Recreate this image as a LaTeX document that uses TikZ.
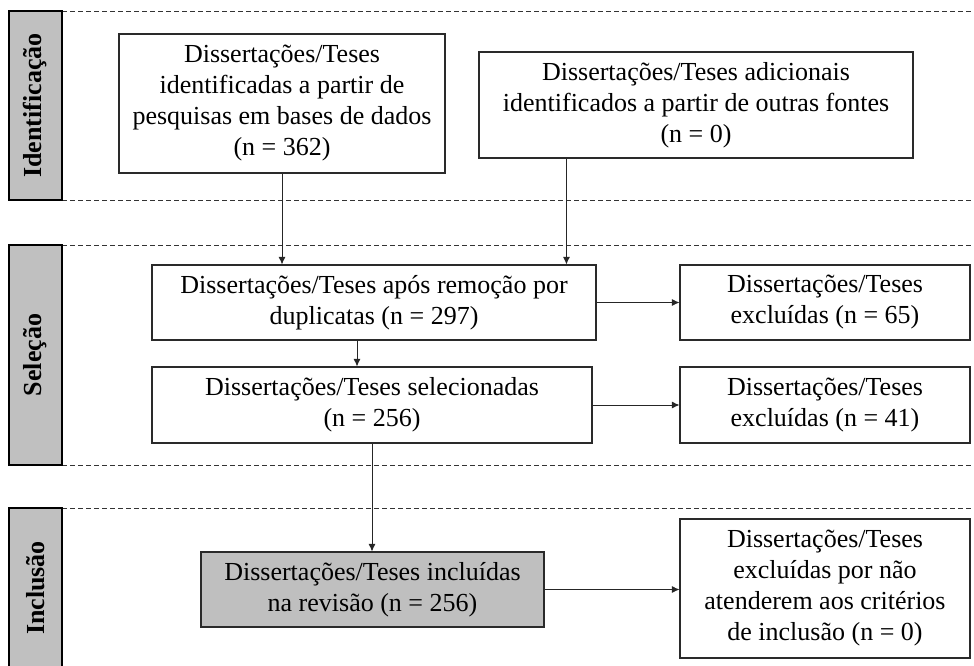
\documentclass[tikz,border=0pt]{standalone}
\usepackage{fontspec}
\setmainfont{Liberation Serif}
\usetikzlibrary{arrows.meta}
\definecolor{bandgray}{HTML}{C0C0C0}
\definecolor{boxgray}{HTML}{BFBFBF}
\definecolor{edge}{HTML}{2A2A2A}
\tikzset{
  flowbox/.style={draw=edge, line width=1.1pt, fill=white, inner sep=0pt, align=center,
     font=\fontsize{26}{31}\selectfont},
  arr/.style={draw=black!85, line width=0.9pt, -{Latex[length=7.5pt,width=7pt]}},
  sep/.style={draw=black!80, line width=0.9pt, dash pattern=on 5pt off 3pt},
  band/.style={draw=black, line width=1.3pt, fill=bandgray},
  bandlabel/.style={rotate=90, font=\fontsize{26}{30}\selectfont\bfseries}
}
\begin{document}
\begin{tikzpicture}[x=1pt,y=-1pt]
\useasboundingbox (0,0) rectangle (974,666);
% separators
\draw[sep] (62,11) -- (974,11);
\draw[sep] (62,200) -- (974,200);
\draw[sep] (62,245) -- (974,245);
\draw[sep] (62,465) -- (974,465);
\draw[sep] (62,508) -- (974,508);
% bands
\draw[band] (9,11) rectangle (62,200);
\draw[band] (9,245) rectangle (62,465);
\fill[bandgray] (9,508) rectangle (62,666);
\draw[line width=1.3pt] (9,667) -- (9,508) -- (62,508) -- (62,667);
\node[bandlabel] (lid) at (35.5,105.5) {Identificação};
\node[bandlabel] (lsel) at (35.5,355) {Seleção};
\node[bandlabel] (linc) at (35.5,588) {Inclusão};
% boxes
\node[flowbox, minimum width=326pt, minimum height=139pt] (b1) at (282,103.5)
  {Dissertações/Teses\\identificadas a partir de\\pesquisas em bases de dados\\(n = 362)};
\node[flowbox, minimum width=434pt, minimum height=106pt] (b2) at (696,105)
  {Dissertações/Teses adicionais\\identificados a partir de outras fontes\\(n = 0)};
\node[flowbox, minimum width=444pt, minimum height=75pt] (b3) at (374,302.5)
  {Dissertações/Teses após remoção por\\duplicatas (n = 297)};
\node[flowbox, minimum width=440pt, minimum height=76pt] (b4) at (372,405)
  {Dissertações/Teses selecionadas\\(n = 256)};
\node[flowbox, minimum width=290pt, minimum height=75pt] (b5) at (825,302.5)
  {Dissertações/Teses\\excluídas (n = 65)};
\node[flowbox, minimum width=290pt, minimum height=76pt] (b6) at (825,405)
  {Dissertações/Teses\\excluídas (n = 41)};
\node[flowbox, fill=boxgray, minimum width=343pt, minimum height=75pt] (g) at (372.5,589.5)
  {Dissertações/Teses incluídas\\na revisão (n = 256)};
\node[flowbox, minimum width=290pt, minimum height=139pt] (b8) at (825,588.5)
  {Dissertações/Teses\\excluídas por não\\atenderem aos critérios\\de inclusão (n = 0)};
% connectors
\draw[arr] (b1.south) -- (b1.south |- b3.north);
\draw[arr] ([xshift=88pt]b2.south west) -- ([xshift=88pt]b2.south west |- b3.north);
\draw[arr] ([xshift=-17pt]b3.south) -- ([xshift=-17pt]b3.south |- b4.north);
\draw[arr] (b3.east) -- (b5.west);
\draw[arr] (b4.east) -- (b6.west);
\draw[arr] (b4.south) -- (b4.south |- g.north);
\draw[arr] (g.east) -- (g.east -| b8.west);
\end{tikzpicture}
\end{document}
